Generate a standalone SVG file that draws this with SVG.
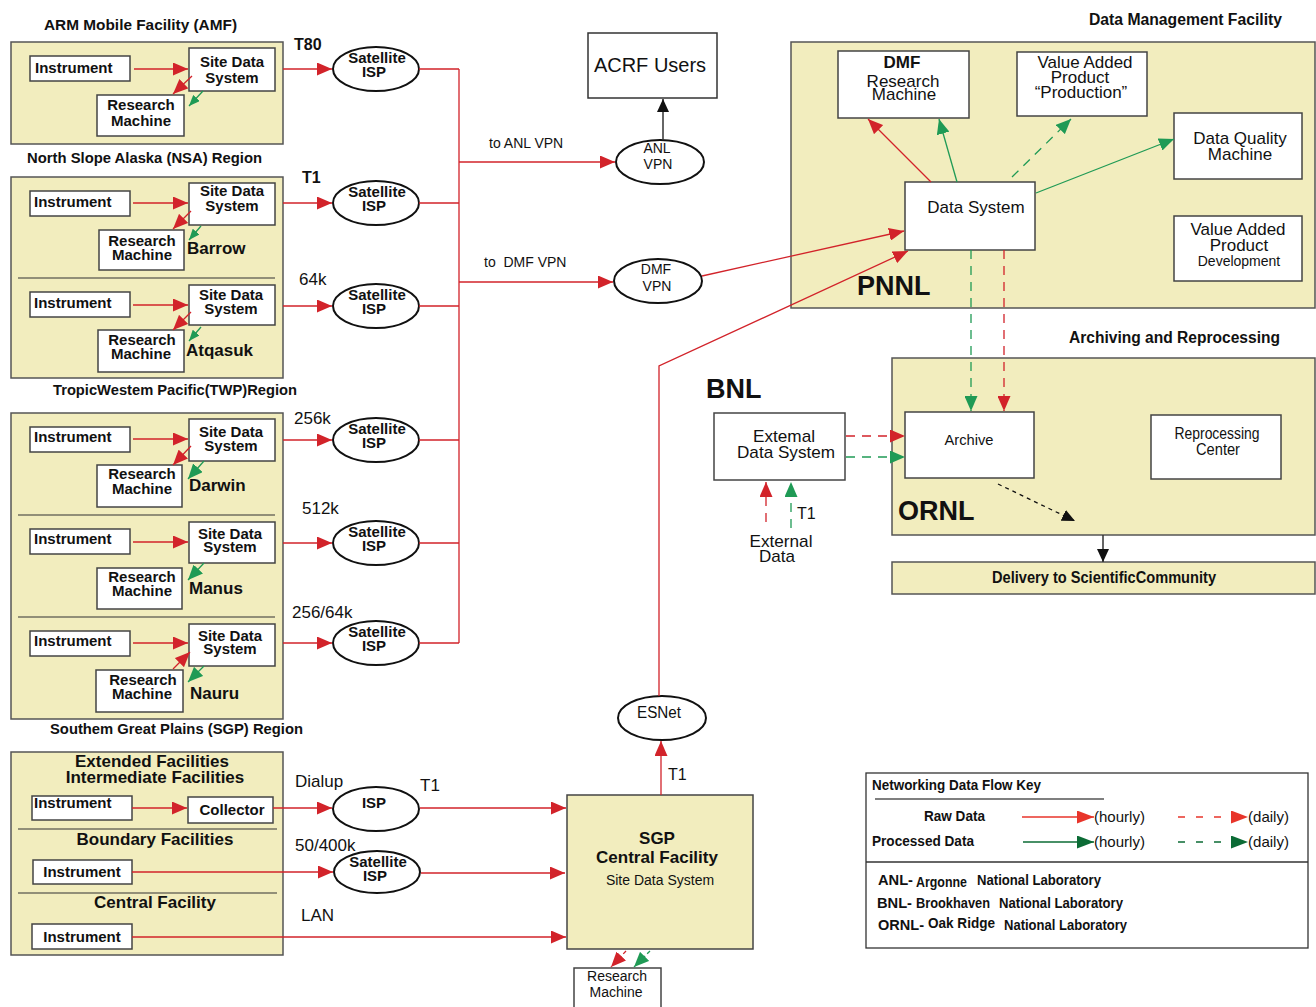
<svg xmlns="http://www.w3.org/2000/svg" width="1316" height="1007" viewBox="0 0 1316 1007">
<defs>
<style>
text{font-family:'Liberation Sans',Arial,Helvetica,sans-serif;fill:#111}
.b{font-weight:bold}
.c{text-anchor:middle}
.s14{font-size:14px}.s15{font-size:15px}.s16{font-size:16px}.s17{font-size:17px}.s20{font-size:20px}.s27{font-size:27px}
.reg{fill:#f2edbe;stroke:#555;stroke-width:1.5}
.box{fill:#fff;stroke:#444;stroke-width:1.5}
.ell{fill:#fff;stroke:#111;stroke-width:2}
.dv{stroke:#333;stroke-width:1.2}
.r{stroke:#d2232a;stroke-width:1.3;fill:none}
.g{stroke:#1f9a55;stroke-width:1.3;fill:none}
.rd{stroke:#d2232a;stroke-width:1.3;fill:none;stroke-dasharray:9 7}
.gd{stroke:#1f9a55;stroke-width:1.3;fill:none;stroke-dasharray:9 7}
.k{stroke:#333;stroke-width:1.5;fill:none}
</style>
<marker id="mr" markerUnits="userSpaceOnUse" markerWidth="15" markerHeight="13" refX="15" refY="6.5" orient="auto"><path d="M0,0 L15,6.5 L0,13 z" fill="#d2232a"/></marker>
<marker id="mg" markerUnits="userSpaceOnUse" markerWidth="15" markerHeight="13" refX="15" refY="6.5" orient="auto"><path d="M0,0 L15,6.5 L0,13 z" fill="#1f9a55"/></marker>
<marker id="mgs" markerUnits="userSpaceOnUse" markerWidth="11" markerHeight="9" refX="11" refY="4.5" orient="auto"><path d="M0,0 L11,4.5 L0,9 z" fill="#1f9a55"/></marker>
<marker id="mk" markerUnits="userSpaceOnUse" markerWidth="13" markerHeight="12" refX="13" refY="6" orient="auto"><path d="M0,0 L13,6 L0,12 z" fill="#111"/></marker>
<marker id="mrl" markerUnits="userSpaceOnUse" markerWidth="17" markerHeight="13" refX="17" refY="6.5" orient="auto"><path d="M0,0 L17,6.5 L0,13 z" fill="#e8352b"/></marker>
<marker id="mgl" markerUnits="userSpaceOnUse" markerWidth="17" markerHeight="13" refX="17" refY="6.5" orient="auto"><path d="M0,0 L17,6.5 L0,13 z" fill="#0b6b35"/></marker>
</defs>

<!-- Region titles -->
<text class="b s15" x="44" y="30" textLength="193" lengthAdjust="spacingAndGlyphs">ARM Mobile Facility (AMF)</text>
<text class="b s15" x="27" y="163" textLength="235" lengthAdjust="spacingAndGlyphs">North Slope Alaska (NSA) Region</text>
<text class="b s15" x="53" y="395" textLength="244" lengthAdjust="spacingAndGlyphs">TropicWestem Pacific(TWP)Region</text>
<text class="b s15" x="50" y="734" textLength="253" lengthAdjust="spacingAndGlyphs">Southem Great Plains (SGP) Region</text>

<!-- AMF region -->
<g id="amf">
<rect class="reg" x="11" y="42" width="272" height="102"/>
<g id="amf-instrument"><rect class="box" x="30" y="56" width="100" height="25"/><text class="b s15" x="35" y="73">Instrument</text></g>
<g id="amf-sds"><rect class="box" x="189" y="48" width="86" height="43"/><text class="b s15 c" x="232" y="67">Site Data</text><text class="b s15 c" x="232" y="83">System</text></g>
<g id="amf-rm"><rect class="box" x="97" y="95" width="87" height="41"/><text class="b s15 c" x="141" y="110">Research</text><text class="b s15 c" x="141" y="126">Machine</text></g>
</g>

<!-- TWP region -->
<g id="twp">
<rect class="reg" x="11" y="177" width="272" height="201"/>
<line class="dv" x1="18" y1="278" x2="275" y2="278"/>
<g id="barrow-instrument"><rect class="box" x="30" y="191" width="100" height="25"/><text class="b s15" x="34" y="207">Instrument</text></g>
<g id="barrow-sds"><rect class="box" x="189" y="183" width="86" height="42"/><text class="b s15 c" x="232" y="196">Site Data</text><text class="b s15 c" x="232" y="211">System</text></g>
<g id="barrow-rm"><rect class="box" x="99" y="230" width="85" height="40"/><text class="b s15 c" x="142" y="246">Research</text><text class="b s15 c" x="142" y="260">Machine</text></g>
<text class="b s17" x="187" y="254">Barrow</text>
<g id="atqasuk-instrument"><rect class="box" x="30" y="292" width="100" height="25"/><text class="b s15" x="34" y="308">Instrument</text></g>
<g id="atqasuk-sds"><rect class="box" x="189" y="285" width="86" height="40"/><text class="b s15 c" x="231" y="300">Site Data</text><text class="b s15 c" x="231" y="314">System</text></g>
<g id="atqasuk-rm"><rect class="box" x="98" y="330" width="86" height="42"/><text class="b s15 c" x="142" y="345">Research</text><text class="b s15 c" x="141" y="359">Machine</text></g>
<text class="b s17" x="186" y="356">Atqasuk</text>
</g>

<!-- SGP region -->
<g id="sgp">
<rect class="reg" x="11" y="413" width="272" height="306"/>
<line class="dv" x1="18" y1="515" x2="275" y2="515"/>
<line class="dv" x1="18" y1="617" x2="275" y2="617"/>
<g id="darwin-instrument"><rect class="box" x="30" y="427" width="100" height="25"/><text class="b s15" x="34" y="442">Instrument</text></g>
<g id="darwin-sds"><rect class="box" x="189" y="419" width="86" height="42"/><text class="b s15 c" x="231" y="437">Site Data</text><text class="b s15 c" x="231" y="451">System</text></g>
<g id="darwin-rm"><rect class="box" x="97" y="465" width="85" height="42"/><text class="b s15 c" x="142" y="479">Research</text><text class="b s15 c" x="142" y="494">Machine</text></g>
<text class="b s17" x="189" y="491">Darwin</text>
<g id="manus-instrument"><rect class="box" x="30" y="529" width="100" height="25"/><text class="b s15" x="34" y="544">Instrument</text></g>
<g id="manus-sds"><rect class="box" x="189" y="522" width="86" height="41"/><text class="b s15 c" x="230" y="539">Site Data</text><text class="b s15 c" x="230" y="552">System</text></g>
<g id="manus-rm"><rect class="box" x="97" y="568" width="85" height="41"/><text class="b s15 c" x="142" y="582">Research</text><text class="b s15 c" x="142" y="596">Machine</text></g>
<text class="b s17" x="189" y="594">Manus</text>
<g id="nauru-instrument"><rect class="box" x="30" y="631" width="100" height="25"/><text class="b s15" x="34" y="646">Instrument</text></g>
<g id="nauru-sds"><rect class="box" x="189" y="624" width="86" height="42"/><text class="b s15 c" x="230" y="641">Site Data</text><text class="b s15 c" x="230" y="654">System</text></g>
<g id="nauru-rm"><rect class="box" x="96" y="670" width="87" height="42"/><text class="b s15 c" x="143" y="685">Research</text><text class="b s15 c" x="142" y="699">Machine</text></g>
<text class="b s17" x="190" y="699">Nauru</text>
</g>

<!-- Extended facilities region -->
<g id="extended">
<rect class="reg" x="11" y="752" width="272" height="203"/>
<text class="b s17 c" x="152" y="767">Extended Facilities</text>
<text class="b s17 c" x="155" y="783">Intermediate Facilities</text>
<g id="ext-instrument"><rect class="box" x="32" y="796" width="100" height="24"/><text class="b s15" x="34" y="808">Instrument</text></g>
<g id="collector"><rect class="box" x="188" y="797" width="85" height="26"/><text class="b s15 c" x="232" y="815">Collector</text></g>
<line class="dv" x1="18" y1="829" x2="277" y2="829"/>
<text class="b s17 c" x="155" y="845">Boundary Facilities</text>
<g id="bnd-instrument"><rect class="box" x="33" y="860" width="99" height="24"/><text class="b s15 c" x="82" y="877">Instrument</text></g>
<line class="dv" x1="18" y1="893" x2="277" y2="893"/>
<text class="b s17 c" x="155" y="908">Central Facility</text>
<g id="cf-instrument"><rect class="box" x="32" y="924" width="100" height="25"/><text class="b s15 c" x="82" y="942">Instrument</text></g>
</g>

<!-- Satellite ISPs -->
<g id="isp-amf"><ellipse class="ell" cx="376" cy="69" rx="43" ry="22"/><text class="b s15 c" x="377" y="63">Satellite</text><text class="b s15 c" x="374" y="77">ISP</text></g>
<g id="isp-barrow"><ellipse class="ell" cx="376" cy="203" rx="43" ry="22"/><text class="b s15 c" x="377" y="197">Satellite</text><text class="b s15 c" x="374" y="211">ISP</text></g>
<g id="isp-atqasuk"><ellipse class="ell" cx="376" cy="306" rx="43" ry="22"/><text class="b s15 c" x="377" y="300">Satellite</text><text class="b s15 c" x="374" y="314">ISP</text></g>
<g id="isp-darwin"><ellipse class="ell" cx="376" cy="440" rx="43" ry="22"/><text class="b s15 c" x="377" y="434">Satellite</text><text class="b s15 c" x="374" y="448">ISP</text></g>
<g id="isp-manus"><ellipse class="ell" cx="376" cy="543" rx="43" ry="22"/><text class="b s15 c" x="377" y="537">Satellite</text><text class="b s15 c" x="374" y="551">ISP</text></g>
<g id="isp-nauru"><ellipse class="ell" cx="376" cy="643" rx="43" ry="22"/><text class="b s15 c" x="377" y="637">Satellite</text><text class="b s15 c" x="374" y="651">ISP</text></g>
<g id="isp-dialup"><ellipse class="ell" cx="376" cy="809" rx="43" ry="22"/><text class="b s15 c" x="374" y="808">ISP</text></g>
<g id="isp-boundary"><ellipse class="ell" cx="377" cy="872" rx="43" ry="21"/><text class="b s15 c" x="378" y="867">Satellite</text><text class="b s15 c" x="375" y="881">ISP</text></g>

<!-- link labels -->
<text class="b s16" x="294" y="50">T80</text>
<text class="b s16" x="302" y="183">T1</text>
<text class="s17" x="299" y="285">64k</text>
<text class="s17" x="294" y="424">256k</text>
<text class="s17" x="302" y="514">512k</text>
<text class="s17" x="292" y="618">256/64k</text>
<text class="s17" x="295" y="787">Dialup</text>
<text class="s17" x="420" y="791">T1</text>
<text class="s17" x="295" y="851">50/400k</text>
<text class="s17" x="301" y="921">LAN</text>
<text class="s14" x="489" y="148">to ANL VPN</text>
<text class="s14" x="484" y="267" xml:space="preserve">to  DMF VPN</text>
<text class="s16" x="668" y="780">T1</text>

<!-- VPNs and users -->
<g id="acrf-users"><rect class="box" x="588" y="33" width="129" height="65" style="stroke:#333"/><text class="s20 c" x="650" y="72">ACRF Users</text></g>
<g id="anl-vpn"><ellipse class="ell" cx="660" cy="162" rx="44" ry="22"/><text class="s14 c" x="657" y="153">ANL</text><text class="s14 c" x="658" y="169">VPN</text></g>
<g id="dmf-vpn"><ellipse class="ell" cx="658" cy="281" rx="44" ry="22"/><text class="s14 c" x="656" y="274">DMF</text><text class="s14 c" x="657" y="291">VPN</text></g>
<g id="esnet"><ellipse class="ell" cx="662" cy="718" rx="44" ry="22"/><text class="s16 c" x="659" y="718" textLength="44" lengthAdjust="spacingAndGlyphs">ESNet</text></g>

<!-- SGP central facility -->
<g id="sgp-central"><rect class="reg" x="567" y="795" width="186" height="154" style="stroke:#444"/>
<text class="b s17 c" x="657" y="844">SGP</text><text class="b s17 c" x="657" y="863">Central Facility</text><text class="s14 c" x="660" y="885">Site Data System</text></g>
<g id="sgp-rm"><rect class="box" x="574" y="968" width="87" height="45"/><text class="s14 c" x="617" y="981">Research</text><text class="s14 c" x="616" y="997">Machine</text></g>

<!-- PNNL -->
<text class="b s16" x="1089" y="25" textLength="193" lengthAdjust="spacingAndGlyphs">Data Management Facility</text>
<g id="pnnl">
<rect class="reg" x="791" y="42" width="524" height="266"/>
<g id="dmf-rm"><rect class="box" x="838" y="51" width="131" height="67"/><text class="b s17 c" x="902" y="68">DMF</text><text class="s17 c" x="903" y="87">Research</text><text class="s17 c" x="904" y="100">Machine</text></g>
<g id="vap-production"><rect class="box" x="1017" y="52" width="130" height="64"/><text class="s17 c" x="1085" y="68">Value Added</text><text class="s17 c" x="1080" y="83">Product</text><text class="s17 c" x="1081" y="98">“Production”</text></g>
<g id="dq-machine"><rect class="box" x="1174" y="113" width="128" height="66"/><text class="s17 c" x="1240" y="144">Data Quality</text><text class="s17 c" x="1240" y="160">Machine</text></g>
<g id="data-system"><rect class="box" x="905" y="182" width="130" height="68"/><text class="s17 c" x="976" y="213">Data System</text></g>
<g id="vap-development"><rect class="box" x="1174" y="216" width="128" height="65"/><text class="s17 c" x="1238" y="235">Value Added</text><text class="s17 c" x="1239" y="251">Product</text><text class="s14 c" x="1239" y="266">Development</text></g>
<text class="b s27" x="857" y="295">PNNL</text>
</g>

<!-- ORNL -->
<text class="b s16" x="1069" y="343" textLength="211" lengthAdjust="spacingAndGlyphs">Archiving and Reprocessing</text>
<g id="ornl">
<rect class="reg" x="892" y="358" width="423" height="177"/>
<g id="archive"><rect class="box" x="905" y="412" width="129" height="66"/><text class="s15 c" x="969" y="445" textLength="49" lengthAdjust="spacingAndGlyphs">Archive</text></g>
<g id="reprocessing"><rect class="box" x="1151" y="415" width="130" height="64"/><text class="s16 c" x="1217" y="439" textLength="85" lengthAdjust="spacingAndGlyphs">Reprocessing</text><text class="s16 c" x="1218" y="455" textLength="44" lengthAdjust="spacingAndGlyphs">Center</text></g>
<text class="b s27" x="898" y="520">ORNL</text>
</g>
<g id="delivery"><rect class="reg" x="892" y="562" width="423" height="32"/><text class="b s16 c" x="1104" y="583" textLength="224" lengthAdjust="spacingAndGlyphs">Delivery to ScientificCommunity</text></g>

<!-- BNL -->
<text class="b s27" x="706" y="398">BNL</text>
<g id="external-ds"><rect class="box" x="714" y="413" width="131" height="67"/><text class="s17 c" x="784" y="442" textLength="62" lengthAdjust="spacingAndGlyphs">Extemal</text><text class="s17 c" x="786" y="458" textLength="98" lengthAdjust="spacingAndGlyphs">Data System</text></g>
<g id="external-data"><text class="s17 c" x="781" y="547" textLength="63" lengthAdjust="spacingAndGlyphs">External</text><text class="s17 c" x="777" y="562" textLength="36" lengthAdjust="spacingAndGlyphs">Data</text></g>
<text class="s16" x="797" y="519">T1</text>

<!-- Connectors -->
<g id="connectors">
<!-- site internal -->
<line class="r" x1="134" y1="69" x2="188" y2="69" marker-end="url(#mr)"/>
<line class="r" x1="192" y1="76" x2="173" y2="94" marker-end="url(#mr)"/>
<line class="g" x1="203" y1="91" x2="189" y2="106" marker-end="url(#mgs)"/>
<line class="r" x1="133" y1="203" x2="188" y2="203" marker-end="url(#mr)"/>
<line class="r" x1="191" y1="211" x2="173" y2="229" marker-end="url(#mr)"/>
<line class="g" x1="201" y1="226" x2="189" y2="240" marker-end="url(#mgs)"/>
<line class="r" x1="133" y1="305" x2="188" y2="305" marker-end="url(#mr)"/>
<line class="r" x1="191" y1="312" x2="173" y2="330" marker-end="url(#mr)"/>
<line class="g" x1="201" y1="327" x2="189" y2="341" marker-end="url(#mgs)"/>
<line class="r" x1="133" y1="439" x2="188" y2="439" marker-end="url(#mr)"/>
<line class="r" x1="191" y1="446" x2="173" y2="465" marker-end="url(#mr)"/>
<line class="g" x1="204" y1="461" x2="188" y2="479" marker-end="url(#mg)"/>
<line class="r" x1="133" y1="542" x2="188" y2="542" marker-end="url(#mr)"/>
<line class="g" x1="204" y1="563" x2="188" y2="580" marker-end="url(#mg)"/>
<line class="r" x1="133" y1="643" x2="188" y2="643" marker-end="url(#mr)"/>
<line class="r" x1="173" y1="669" x2="190" y2="652" marker-end="url(#mr)"/>
<line class="g" x1="204" y1="666" x2="188" y2="682" marker-end="url(#mg)"/>
<line class="r" x1="132" y1="808" x2="187" y2="808" marker-end="url(#mr)"/>
<!-- to satellite ISPs -->
<line class="r" x1="283" y1="69" x2="332" y2="69" marker-end="url(#mr)"/>
<line class="r" x1="283" y1="203" x2="332" y2="203" marker-end="url(#mr)"/>
<line class="r" x1="283" y1="306" x2="332" y2="306" marker-end="url(#mr)"/>
<line class="r" x1="283" y1="440" x2="332" y2="440" marker-end="url(#mr)"/>
<line class="r" x1="283" y1="543" x2="332" y2="543" marker-end="url(#mr)"/>
<line class="r" x1="283" y1="643" x2="332" y2="643" marker-end="url(#mr)"/>
<!-- bus -->
<path class="r" d="M419,69 H459 M419,203 H459 M419,306 H459 M419,440 H459 M419,543 H459 M419,643 H459 M459,69 V643"/>
<line class="r" x1="459" y1="162" x2="615" y2="162" marker-end="url(#mr)"/>
<line class="r" x1="459" y1="282" x2="613" y2="282" marker-end="url(#mr)"/>
<line class="k" x1="663" y1="140" x2="663" y2="99" marker-end="url(#mk)"/>
<line class="r" x1="702" y1="276" x2="904" y2="231" marker-end="url(#mr)"/>
<path class="r" d="M659,696 V366 L908,251" marker-end="url(#mr)"/>
<!-- bottom inputs -->
<line class="r" x1="273" y1="808" x2="332" y2="808" marker-end="url(#mr)"/>
<line class="r" x1="420" y1="808" x2="566" y2="808" marker-end="url(#mr)"/>
<line class="r" x1="132" y1="872" x2="333" y2="872" marker-end="url(#mr)"/>
<line class="r" x1="421" y1="873" x2="565" y2="873" marker-end="url(#mr)"/>
<line class="r" x1="132" y1="937" x2="566" y2="937" marker-end="url(#mr)"/>
<line class="r" x1="661" y1="795" x2="661" y2="741" marker-end="url(#mr)"/>
<line class="rd" x1="626" y1="951" x2="611" y2="967" style="stroke-dasharray:4 3" marker-end="url(#mr)"/>
<line class="gd" x1="650" y1="951" x2="634" y2="967" style="stroke-dasharray:4 3" marker-end="url(#mg)"/>
<!-- PNNL -->
<line class="r" x1="931" y1="182" x2="868" y2="119" marker-end="url(#mr)"/>
<line class="g" x1="957" y1="182" x2="939" y2="119" marker-end="url(#mg)"/>
<line class="gd" x1="1012" y1="177" x2="1071" y2="119" marker-end="url(#mg)"/>
<line class="g" x1="1036" y1="193" x2="1174" y2="139" marker-end="url(#mg)"/>
<line class="gd" x1="971" y1="250" x2="971" y2="411" marker-end="url(#mg)"/>
<line class="rd" x1="1004" y1="250" x2="1004" y2="411" marker-end="url(#mr)"/>
<!-- BNL / ORNL -->
<line class="rd" x1="846" y1="436" x2="905" y2="436" marker-end="url(#mr)"/>
<line class="gd" x1="846" y1="457" x2="905" y2="457" marker-end="url(#mg)"/>
<line class="rd" x1="766" y1="522" x2="766" y2="482" marker-end="url(#mr)"/>
<line class="gd" x1="791" y1="528" x2="791" y2="482" marker-end="url(#mg)"/>
<line x1="998" y1="484" x2="1075" y2="521" stroke="#111" stroke-width="1.3" stroke-dasharray="4 4" marker-end="url(#mk)"/>
<line class="k" x1="1103" y1="535" x2="1103" y2="562" marker-end="url(#mk)"/>
</g>

<!-- Legend -->
<g id="legend">
<rect x="866" y="773" width="442" height="175" fill="#fff" stroke="#333" stroke-width="1.3"/>
<line x1="866" y1="862" x2="1308" y2="862" stroke="#333" stroke-width="1.3"/>
<text class="b s14" x="872" y="790" textLength="169" lengthAdjust="spacingAndGlyphs">Networking Data Flow Key</text>
<line x1="875" y1="799" x2="1104" y2="799" stroke="#555" stroke-width="1.3"/>
<text class="b s14" x="924" y="821" textLength="61" lengthAdjust="spacingAndGlyphs">Raw Data</text>
<line x1="1022" y1="817" x2="1094" y2="817" stroke="#e8352b" stroke-width="1.3" marker-end="url(#mrl)"/>
<text class="s15" x="1094" y="822" textLength="51" lengthAdjust="spacingAndGlyphs">(hourly)</text>
<line x1="1178" y1="817" x2="1248" y2="817" stroke="#e8352b" stroke-width="1.3" stroke-dasharray="7 11" marker-end="url(#mrl)"/>
<text class="s15" x="1248" y="822" textLength="41" lengthAdjust="spacingAndGlyphs">(daily)</text>
<text class="b s14" x="872" y="846" textLength="102" lengthAdjust="spacingAndGlyphs">Processed Data</text>
<line x1="1023" y1="842" x2="1094" y2="842" stroke="#0b6b35" stroke-width="1.3" marker-end="url(#mgl)"/>
<text class="s15" x="1094" y="847" textLength="51" lengthAdjust="spacingAndGlyphs">(hourly)</text>
<line x1="1178" y1="842" x2="1248" y2="842" stroke="#0b6b35" stroke-width="1.3" stroke-dasharray="7 11" marker-end="url(#mgl)"/>
<text class="s15" x="1248" y="847" textLength="41" lengthAdjust="spacingAndGlyphs">(daily)</text>
<text class="b s14" y="885"><tspan x="878" textLength="35" lengthAdjust="spacingAndGlyphs">ANL-</tspan><tspan x="916" y="887" textLength="51" lengthAdjust="spacingAndGlyphs">Argonne</tspan><tspan x="977" y="885" textLength="124" lengthAdjust="spacingAndGlyphs">National Laboratory</tspan></text>
<text class="b s14" y="908"><tspan x="877" textLength="35" lengthAdjust="spacingAndGlyphs">BNL-</tspan><tspan x="916" textLength="74" lengthAdjust="spacingAndGlyphs">Brookhaven</tspan><tspan x="999" textLength="124" lengthAdjust="spacingAndGlyphs">National Laboratory</tspan></text>
<text class="b s14" y="930"><tspan x="878" textLength="46" lengthAdjust="spacingAndGlyphs">ORNL-</tspan><tspan x="928" y="928" textLength="67" lengthAdjust="spacingAndGlyphs">Oak Ridge</tspan><tspan x="1004" y="930" textLength="123" lengthAdjust="spacingAndGlyphs">National Laboratory</tspan></text>
</g>
</svg>
